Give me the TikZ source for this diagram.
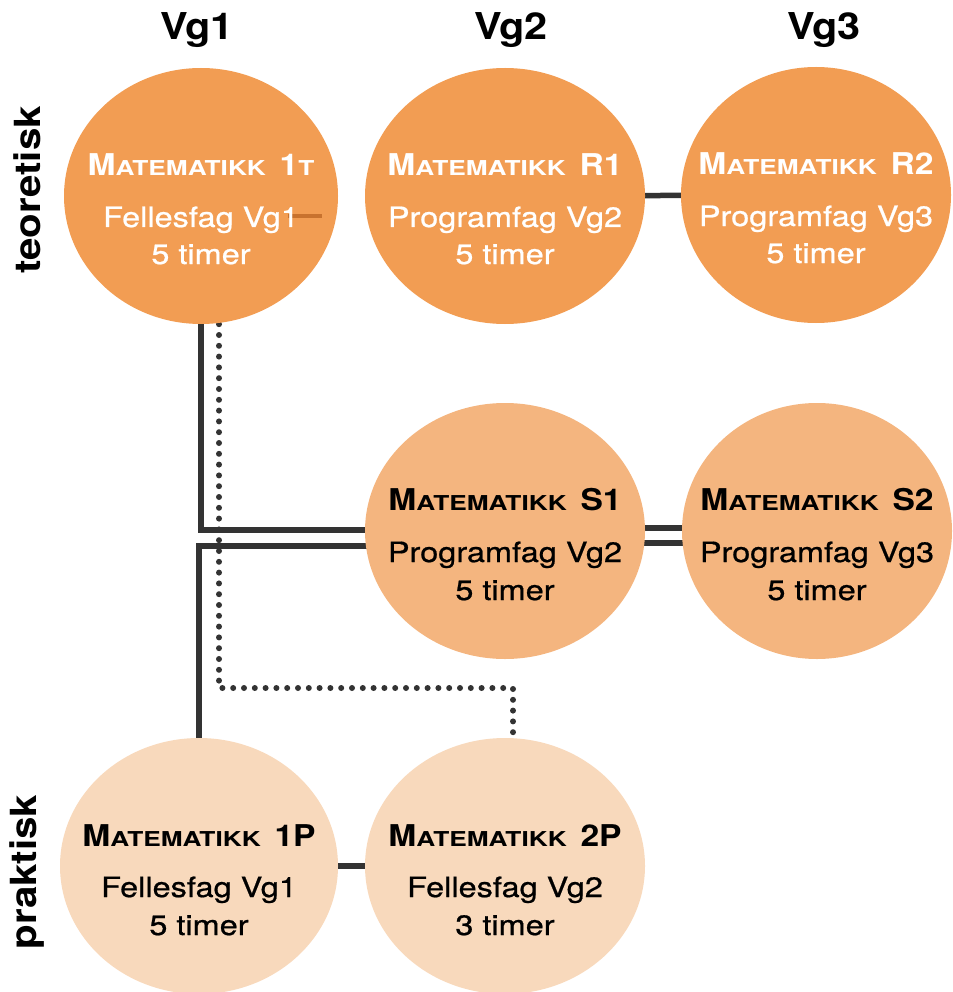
\documentclass[tikz,border=0pt]{standalone}
\usepackage{fontspec}
\setmainfont{TeX Gyre Heros}[FakeStretch=1.12]
\newfontfamily\scf{TeX Gyre Heros}[FakeStretch=1.28]
\newfontfamily\subf{TeX Gyre Heros}[FakeStretch=1.16,FakeBold=0.7]
\usetikzlibrary{shapes.geometric,backgrounds}
\definecolor{oA}{HTML}{F29D53}
\definecolor{oB}{HTML}{F4B57F}
\definecolor{oC}{HTML}{F8D9BC}
\definecolor{ln}{HTML}{333333}
\definecolor{oD}{HTML}{C8722E}
\newcommand\bigM{\fontsize{30}{31}\selectfont}
\newcommand\smC{\fontsize{20.5}{22}\selectfont}
\newcommand\mattl[1]{M{\scf\bfseries\smC ATEMATIKK}\hspace{0.15em} #1}
\begin{document}
\begin{tikzpicture}[x=1pt,y=-1pt,
  bub/.style={ellipse, draw=none, inner sep=0pt, minimum height=256pt},
  ttl/.style={anchor=base, inner sep=0pt, font=\bfseries\bigM},
  sub/.style={anchor=base, inner sep=0pt, font=\subf\fontsize{28}{30}\selectfont},
  head/.style={anchor=base, inner sep=0pt, font=\bfseries\fontsize{37}{40}\selectfont},
  side/.style={rotate=90, inner sep=0pt, font=\bfseries\fontsize{36}{40}\selectfont},
  conn/.style={draw=ln, line width=5.5pt},
  dotln/.style={draw=ln, line width=6pt, line cap=round, dash pattern=on 0pt off 10.8pt}]
\useasboundingbox (0,0) rectangle (952,992);

% headings
\node[head] (h1) at (197,40) {Vg1};
\node[head] (h2) at (511,40) {Vg2};
\node[head] (h3) at (824,40) {Vg3};
\node[side] (s1) at (27,190) {teoretisk};
\node[side] (s2) at (27,872) {praktisk};

% bubbles
\node[bub, fill=oA, minimum width=274pt] (T1) at (201,196) {};
\node[bub, fill=oA, minimum width=280pt] (R1) at (505,196) {};
\node[bub, fill=oA, minimum width=270pt] (R2) at (816,195) {};
\node[bub, fill=oB, minimum width=280pt] (S1) at (505,531) {};
\node[bub, fill=oB, minimum width=270pt] (S2) at (817,531) {};
\node[bub, fill=oC, minimum width=278pt] (P1) at (199,866) {};
\node[bub, fill=oC, minimum width=280pt] (P2) at (505,866) {};

% small dash inside T1
\draw[oD, line width=4pt] ([xshift=87pt,yshift=-20pt]T1.center) -- ([xshift=121pt,yshift=-20pt]T1.center);

% texts
\node[ttl, text=white] (T1a) at ([yshift=20pt]T1.center) {\mattl{1{\scf\smC T}}};
\node[sub, text=white] (T1b) at ([yshift=-31pt]T1.center) {Fellesfag Vg1};
\node[sub, text=white] (T1c) at ([yshift=-68pt]T1.center) {5 timer};

\node[ttl, text=white] (R1a) at ([yshift=20pt]R1.center) {\mattl{R1}};
\node[sub, text=white] (R1b) at ([yshift=-31pt]R1.center) {Programfag Vg2};
\node[sub, text=white] (R1c) at ([yshift=-68pt]R1.center) {5 timer};

\node[ttl, text=white] (R2a) at ([yshift=20pt]R2.center) {\mattl{R2}};
\node[sub, text=white] (R2b) at ([yshift=-31pt]R2.center) {Programfag Vg3};
\node[sub, text=white] (R2c) at ([yshift=-68pt]R2.center) {5 timer};

\node[ttl] (S1a) at ([yshift=21pt]S1.center) {\mattl{S1}};
\node[sub] (S1b) at ([yshift=-31pt]S1.center) {Programfag Vg2};
\node[sub] (S1c) at ([yshift=-69pt]S1.center) {5 timer};

\node[ttl] (S2a) at ([yshift=21pt]S2.center) {\mattl{S2}};
\node[sub] (S2b) at ([yshift=-31pt]S2.center) {Programfag Vg3};
\node[sub] (S2c) at ([yshift=-69pt]S2.center) {5 timer};

\node[ttl] (P1a) at ([yshift=20pt]P1.center) {\mattl{1P}};
\node[sub] (P1b) at ([yshift=-31pt]P1.center) {Fellesfag Vg1};
\node[sub] (P1c) at ([yshift=-69pt]P1.center) {5 timer};

\node[ttl] (P2a) at ([yshift=20pt]P2.center) {\mattl{2P}};
\node[sub] (P2b) at ([yshift=-31pt]P2.center) {Fellesfag Vg2};
\node[sub] (P2c) at ([yshift=-69pt]P2.center) {3 timer};

% connectors
\coordinate (dk) at (513,688);
\begin{scope}[on background layer]
\draw[conn] ([yshift=1pt]S1.center) -| (T1.south);
\draw[conn] ([yshift=-15pt]S1.center) -| (P1.north);
\draw[conn] (R1) -- (R2);
\draw[conn] ([yshift=3pt]S1.center) -- ([yshift=3pt]S2.center);
\draw[conn] ([yshift=-12pt]S1.center) -- ([yshift=-12pt]S2.center);
\draw[conn] (P1) -- (P2);
\draw[dotln] ([xshift=18pt]T1.south) |- (dk) -- (dk |- P2.north);
\end{scope}
\end{tikzpicture}
\end{document}
